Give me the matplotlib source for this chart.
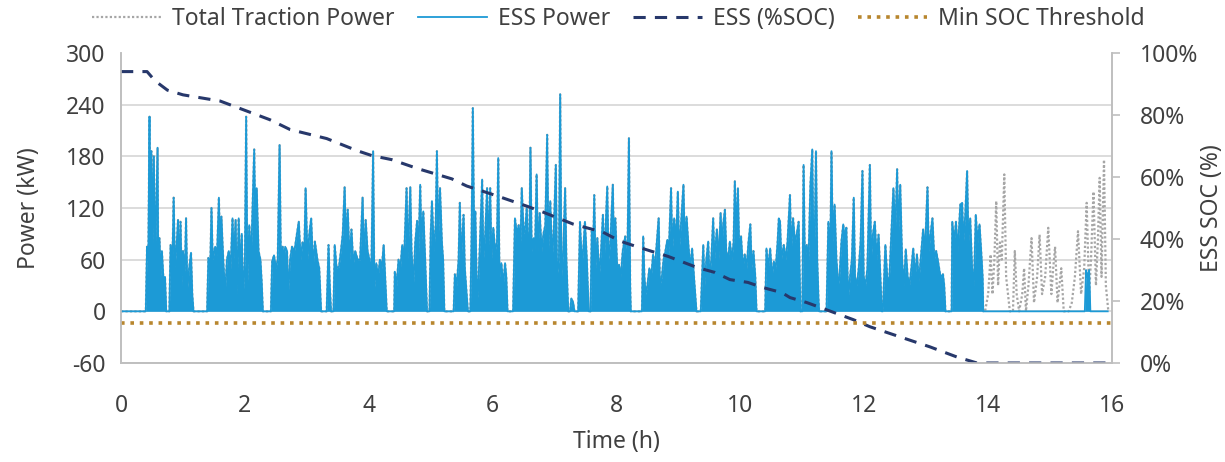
import matplotlib
matplotlib.use("Agg")
import matplotlib.pyplot as plt
from matplotlib.ticker import FuncFormatter

plt.rcParams['font.family'] = ['Noto Sans', 'DejaVu Sans']
plt.rcParams['axes.unicode_minus'] = False

# ESS power (kW): (time h, kW), bursts separated by zeros
ess_points = [
    (0.00, 0), (0.40, 0), (0.42, 75), (0.44, 60), (0.46, 226), (0.47, 90), (0.49, 186), (0.51, 80),
    (0.53, 180), (0.55, 60), (0.59, 190), (0.60, 50), (0.62, 85), (0.64, 40), (0.66, 70), (0.69, 30),
    (0.71, 40), (0.73, 0),
    (0.78, 0), (0.80, 77), (0.83, 60), (0.85, 132), (0.87, 50), (0.90, 80), (0.92, 106), (0.94, 40),
    (0.96, 104), (0.98, 30), (1.00, 70), (1.03, 45), (1.05, 108), (1.07, 25), (1.10, 50), (1.13, 68),
    (1.15, 20), (1.17, 0),
    (1.39, 0), (1.41, 62), (1.44, 50), (1.46, 120), (1.48, 60), (1.52, 75), (1.55, 65), (1.58, 132),
    (1.60, 70), (1.62, 110), (1.65, 60), (1.68, 20), (1.71, 60), (1.74, 70), (1.77, 50), (1.80, 108),
    (1.82, 60), (1.85, 106), (1.87, 20), (1.90, 108), (1.92, 50), (1.95, 90), (1.97, 15), (2.00, 60),
    (2.02, 226), (2.04, 30), (2.07, 100), (2.10, 60), (2.15, 188), (2.17, 90), (2.19, 143), (2.22, 70),
    (2.25, 60), (2.27, 35), (2.29, 0),
    (2.42, 0), (2.44, 58), (2.47, 65), (2.50, 50), (2.53, 60), (2.56, 193), (2.58, 60), (2.61, 75),
    (2.63, 58), (2.65, 75), (2.68, 70), (2.70, 20), (2.73, 60), (2.76, 75), (2.80, 70), (2.84, 90),
    (2.87, 104), (2.90, 60), (2.93, 80), (2.96, 70), (2.98, 143), (3.01, 60), (3.04, 90), (3.07, 108),
    (3.10, 50), (3.13, 81), (3.17, 60), (3.20, 50), (3.23, 0),
    (3.32, 0), (3.35, 77), (3.37, 30), (3.39, 0), (3.43, 0), (3.45, 77), (3.48, 50), (3.52, 52),
    (3.55, 70), (3.58, 90), (3.61, 144), (3.63, 80), (3.66, 118), (3.69, 60), (3.72, 95), (3.75, 55),
    (3.78, 70), (3.82, 60), (3.86, 60), (3.90, 132), (3.92, 60), (3.95, 106), (3.98, 70), (4.01, 60),
    (4.04, 40), (4.07, 186), (4.09, 25), (4.12, 56), (4.15, 40), (4.18, 60), (4.21, 50), (4.24, 77),
    (4.27, 30), (4.29, 0),
    (4.41, 0), (4.42, 46), (4.45, 30), (4.48, 60), (4.51, 50), (4.54, 77), (4.57, 60), (4.61, 143),
    (4.63, 60), (4.67, 144), (4.69, 70), (4.72, 30), (4.75, 80), (4.78, 105), (4.80, 60), (4.83, 147),
    (4.85, 80), (4.88, 116), (4.91, 60), (4.94, 0),
    (4.98, 0), (5.00, 90), (5.02, 128), (5.05, 70), (5.08, 100), (5.10, 186), (5.12, 80), (5.15, 143),
    (5.18, 80), (5.20, 60), (5.22, 0),
    (5.37, 0), (5.39, 43), (5.42, 30), (5.45, 60), (5.47, 126), (5.49, 60), (5.53, 112), (5.55, 50),
    (5.58, 20), (5.60, 0), (5.64, 0), (5.66, 90), (5.68, 236), (5.70, 90), (5.72, 116), (5.74, 40),
    (5.76, 15), (5.79, 70), (5.81, 110), (5.83, 153), (5.85, 60), (5.88, 90), (5.91, 143), (5.93, 70),
    (5.96, 143), (5.98, 60), (6.01, 97), (6.04, 70), (6.07, 80), (6.09, 178), (6.11, 40), (6.14, 56),
    (6.17, 30), (6.20, 56), (6.22, 40), (6.24, 0),
    (6.33, 0), (6.36, 108), (6.39, 90), (6.42, 100), (6.45, 80), (6.47, 143), (6.50, 90), (6.53, 100),
    (6.55, 120), (6.57, 80), (6.59, 60), (6.61, 190), (6.63, 70), (6.66, 85), (6.68, 60), (6.71, 159),
    (6.73, 70), (6.76, 114), (6.79, 70), (6.82, 90), (6.85, 100), (6.88, 205), (6.90, 70), (6.93, 128),
    (6.96, 60), (6.99, 100), (7.02, 170), (7.04, 40), (7.07, 60), (7.09, 252), (7.11, 40), (7.14, 70),
    (7.17, 143), (7.19, 60), (7.22, 0), (7.25, 0), (7.27, 15), (7.30, 10), (7.32, 0),
    (7.38, 0), (7.41, 104), (7.43, 70), (7.45, 60), (7.47, 80), (7.49, 104), (7.52, 60), (7.55, 0),
    (7.58, 0), (7.60, 93), (7.62, 60), (7.64, 135), (7.66, 50), (7.69, 85), (7.72, 40), (7.75, 70),
    (7.78, 112), (7.80, 60), (7.82, 90), (7.85, 145), (7.87, 60), (7.90, 80), (7.94, 147), (7.96, 60),
    (7.98, 108), (8.01, 50), (8.04, 54), (8.07, 40), (8.10, 70), (8.14, 87), (8.17, 30), (8.20, 201),
    (8.22, 30), (8.23, 0),
    (8.41, 0), (8.43, 87), (8.45, 40), (8.47, 20), (8.50, 31), (8.53, 50), (8.56, 40), (8.59, 66),
    (8.62, 50), (8.65, 80), (8.68, 108), (8.70, 30), (8.73, 39), (8.76, 60), (8.79, 70), (8.82, 83),
    (8.84, 60), (8.86, 100), (8.88, 143), (8.90, 70), (8.93, 108), (8.96, 80), (8.99, 139), (9.01, 70),
    (9.04, 100), (9.08, 147), (9.10, 80), (9.13, 110), (9.16, 77), (9.19, 50), (9.22, 73), (9.25, 40),
    (9.27, 20), (9.29, 0),
    (9.36, 0), (9.40, 77), (9.42, 30), (9.45, 60), (9.48, 81), (9.50, 40), (9.53, 60), (9.56, 108),
    (9.58, 60), (9.62, 95), (9.65, 60), (9.68, 114), (9.70, 70), (9.72, 100), (9.75, 118), (9.77, 70),
    (9.80, 60), (9.83, 81), (9.86, 60), (9.89, 80), (9.91, 151), (9.93, 90), (9.96, 143), (9.98, 70),
    (10.01, 87), (10.04, 50), (10.07, 66), (10.10, 50), (10.13, 80), (10.16, 101), (10.18, 50),
    (10.21, 70), (10.24, 40), (10.26, 0),
    (10.40, 0), (10.42, 73), (10.45, 50), (10.48, 73), (10.51, 40), (10.54, 58), (10.57, 50),
    (10.60, 80), (10.62, 108), (10.64, 104), (10.66, 60), (10.70, 77), (10.73, 60), (10.76, 80),
    (10.80, 135), (10.82, 70), (10.85, 108), (10.88, 80), (10.91, 90), (10.94, 104), (10.96, 30),
    (10.97, 0),
    (11.00, 0), (11.02, 170), (11.04, 60), (11.07, 77), (11.10, 60), (11.13, 147), (11.16, 188),
    (11.18, 60), (11.20, 90), (11.22, 186), (11.24, 60), (11.26, 15), (11.27, 0),
    (11.39, 0), (11.42, 104), (11.45, 60), (11.47, 186), (11.49, 80), (11.52, 124), (11.55, 60),
    (11.58, 30), (11.60, 40), (11.63, 80), (11.66, 101), (11.69, 80), (11.71, 97), (11.74, 15),
    (11.77, 40), (11.80, 60), (11.83, 132), (11.85, 40), (11.88, 30), (11.91, 50), (11.94, 80),
    (11.97, 163), (11.99, 40), (12.02, 30), (12.05, 50), (12.09, 170), (12.11, 60), (12.14, 90),
    (12.17, 104), (12.20, 60), (12.23, 89), (12.26, 40), (12.28, 0),
    (12.30, 0), (12.34, 77), (12.37, 40), (12.40, 31), (12.43, 80), (12.47, 143), (12.50, 90),
    (12.53, 165), (12.55, 90), (12.58, 147), (12.61, 60), (12.64, 30), (12.67, 72), (12.70, 40),
    (12.73, 31), (12.76, 50), (12.79, 73), (12.82, 40), (12.85, 66), (12.88, 35), (12.91, 60),
    (12.95, 95), (12.98, 70), (13.02, 144), (13.04, 70), (13.07, 90), (13.10, 108), (13.13, 60),
    (13.16, 70), (13.19, 58), (13.23, 40), (13.27, 43), (13.29, 30), (13.31, 0),
    (13.41, 0), (13.42, 104), (13.45, 80), (13.48, 104), (13.51, 70), (13.55, 124), (13.58, 126),
    (13.60, 80), (13.63, 112), (13.66, 163), (13.68, 80), (13.71, 108), (13.74, 50), (13.77, 30),
    (13.80, 112), (13.83, 80), (13.86, 101), (13.89, 66), (13.91, 40), (13.92, 0),
    (15.56, 0), (15.58, 48), (15.60, 40), (15.63, 48), (15.65, 0), (15.93, 0),
]

# traction power after the ESS is depleted (engine carries the load)
traction_late = [
    (13.95, 0), (14.00, 20), (14.04, 66), (14.07, 20), (14.10, 60), (14.13, 128), (14.16, 30),
    (14.19, 80), (14.22, 60), (14.26, 159), (14.29, 40), (14.32, 20), (14.35, 0), (14.40, 0),
    (14.43, 70), (14.46, 20), (14.50, 0), (14.55, 20), (14.58, 50), (14.61, 0), (14.65, 30),
    (14.70, 85), (14.74, 10), (14.79, 40), (14.83, 89), (14.87, 20), (14.92, 40), (14.97, 97),
    (15.02, 20), (15.05, 50), (15.08, 75), (15.12, 10), (15.15, 30), (15.18, 50), (15.22, 0),
    (15.30, 0), (15.35, 10), (15.40, 40), (15.45, 93), (15.50, 20), (15.55, 50), (15.59, 126),
    (15.63, 20), (15.66, 60), (15.70, 139), (15.74, 30), (15.77, 80), (15.80, 155), (15.83, 40),
    (15.87, 176), (15.90, 30), (15.94, 0),
]

# state of charge (%)
soc_t = [0, 0.42, 0.55, 0.75, 1.0, 1.3, 1.6, 2.0, 2.4, 2.73, 3.32, 3.81, 4.05, 4.37, 4.79, 5.34,
         5.58, 6.07, 6.55, 6.81, 7.30, 7.78, 8.06, 8.30, 8.57, 8.83, 9.30, 9.59, 9.83, 10.12,
         10.35, 10.67, 10.80, 11.07, 11.29, 11.82, 12.09, 12.58, 13.06, 13.50, 13.82, 16.0]
soc = [94, 94, 91, 88, 86.5, 85.5, 84.5, 81.5, 78.5, 75.3, 72.4, 68.5, 66.9, 65.6, 62.7, 59.4,
       57.1, 53.9, 50.6, 48.7, 44.8, 42.2, 39.3, 37.7, 36, 34.4, 30.8, 29.2, 26.9, 26,
       24.4, 22.7, 21.1, 19.5, 17.9, 14, 11.7, 8.4, 5.2, 1.9, 0, 0]
min_soc = 13

ess_t = [p[0] for p in ess_points]
ess_kw = [p[1] for p in ess_points]
early = [p for p in ess_points if p[0] <= 13.92]
trac_t = [p[0] for p in early] + [p[0] for p in traction_late]
trac_kw = [p[1] for p in early] + [p[1] for p in traction_late]

c_ess = '#1c9ad6'
c_soc = '#27386b'
c_min = '#b8862e'
c_trac = '#a6a6a6'
c_axis = '#bfbfbf'
c_text = '#404040'
fs = 16.5

fig = plt.figure(figsize=(12.25, 4.62), dpi=100)
ax = fig.add_axes([0.0988, 0.2143, 0.809, 0.671])
ax2 = ax.twinx()

h_trac, = ax.plot(trac_t, trac_kw, color=c_trac, lw=1.6, ls=(0, (1, 1)), zorder=2,
                  label='Total Traction Power')
ax.fill_between(ess_t, 0, ess_kw, color=c_ess, lw=0, zorder=3)
h_ess, = ax.plot(ess_t, ess_kw, color=c_ess, lw=1.3, zorder=3, label='ESS Power')

h_soc, = ax2.plot(soc_t, soc, color=c_soc, lw=2.2, ls=(0, (4, 3)), label='ESS (%SOC)')
h_min, = ax2.plot([0, 16], [min_soc, min_soc], color=c_min, lw=2.6, ls=(0, (1, 1.6)),
                  label='Min SOC Threshold')

ax.set_xlim(0, 16)
ax.set_ylim(-60, 300)
ax.set_yticks(range(-60, 301, 60))
ax.set_xticks(range(0, 17, 2))
ax2.set_ylim(0, 100)
ax2.set_yticks(range(0, 101, 20))
ax2.yaxis.set_major_formatter(FuncFormatter(lambda v, p: f'{v:.0f}%'))

ax.grid(axis='y', color='#d9d9d9', lw=1.3)
ax.set_axisbelow(True)
ax.get_ygridlines()[-1].set_visible(False)
for a in (ax, ax2):
    a.spines['top'].set_visible(False)
    for s in ('left', 'right', 'bottom'):
        a.spines[s].set_color(c_axis)
        a.spines[s].set_linewidth(1.2)
ax.tick_params(axis='y', length=0, labelsize=fs, labelcolor=c_text, pad=11)
ax.tick_params(axis='x', length=0, labelsize=fs, labelcolor=c_text, pad=22)
ax2.tick_params(axis='y', length=6, color=c_axis, width=1.2, labelsize=fs, labelcolor=c_text, pad=14)

ax.set_xlabel('Time (h)', fontsize=fs, color=c_text, labelpad=9)
ax.set_ylabel('Power (kW)', fontsize=fs, color=c_text, labelpad=18)
ax2.set_ylabel('ESS SOC (%)', fontsize=fs, color=c_text, labelpad=1)

fig.legend(handles=[h_trac, h_ess, h_soc, h_min], loc='upper center', bbox_to_anchor=(0.505, 1.03),
           ncol=4, frameon=False, fontsize=fs, handlelength=3.0, columnspacing=1.0,
           handletextpad=0.5, labelcolor=c_text)

fig.savefig('out.png', dpi=100)
